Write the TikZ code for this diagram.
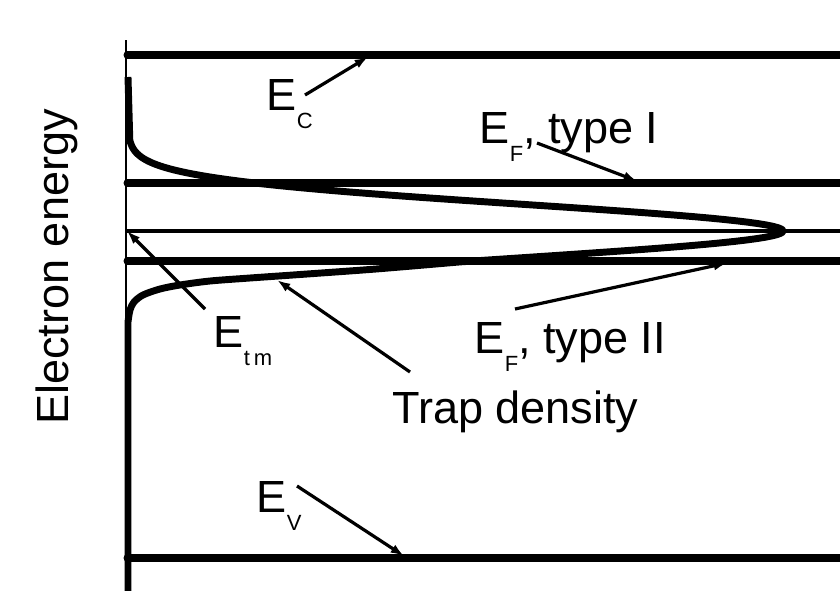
\documentclass[tikz,border=0pt]{standalone}
\usepackage{fontspec}
\setmainfont{Liberation Sans}
\usetikzlibrary{arrows.meta}
\newcommand{\lbsub}[1]{\raisebox{-14pt}{\fontsize{16.5pt}{16.5pt}\selectfont #1}}
\begin{document}
\begin{tikzpicture}[x=0.75pt,y=-0.75pt,
  band/.style={line width=6pt, line cap=round},
  thinband/.style={line width=2.4pt, line cap=round},
  pointer/.style={line width=2.4pt, -{Latex[length=10pt,width=7pt]}},
  lbl/.style={inner sep=0pt, anchor=base west, font=\fontsize{33.8pt}{36pt}\selectfont},
  ]
\useasboundingbox (0,0) rectangle (840,590);
% axis
\draw[line width=1.8pt] (126,40) -- (126,590);
% band edges and levels
\draw[band] (127.5,55) -- (845,55);
\draw[band] (127.5,183) -- (845,183);
\draw[thinband] (127,231) -- (845,231);
\draw[band] (127.5,261) -- (845,261);
\draw[band] (127.5,558) -- (845,558);
% trap density curve
\draw[line width=5.2pt, line join=round, line cap=butt]
  (128,77) -- (129.8,140)
  -- plot[domain=140:262, samples=90] ({128+655*exp(-0.5*((\x-231)/26.5)^2)}, \x)
  -- plot[smooth] coordinates {(459,262) (376,269) (300,274.5) (250,278) (210,281) (180,285) (160,289) (143,295) (134,302) (130,310) (128,322)}
  -- (128,595);
% labels
\node[lbl] (labEC) at (266.5,110) {E\lbsub{C}};
\node[lbl] (labEF1) at (479.5,143) {E\lbsub{F}, type I};
\node[lbl] (labEtm) at (213.5,347) {E\lbsub{t\hspace{3pt}m}};
\node[lbl] (labEF2) at (474.5,353) {E\lbsub{F}, type II};
\node[lbl] (labTrap) at (392,423) {Trap density};
\node[lbl] (labEV) at (256.5,512) {E\lbsub{V}};
\node[inner sep=0pt, anchor=base, rotate=90, font=\fontsize{33.8pt}{36pt}\selectfont] (labAxis) at (68,267) {Electron energy};
% pointer coordinates
\coordinate (tEC) at (305,95);   \coordinate (hEC) at (368,57);
\coordinate (tEF1) at (537,143); \coordinate (hEF1) at (637,181);
\coordinate (tEtm) at (205,309); \coordinate (hEtm) at (127,231);
\coordinate (tTrap) at (410,372); \coordinate (hTrap) at (277,280);
\coordinate (tEF2) at (515,309); \coordinate (hEF2) at (727,263);
\coordinate (tEV) at (297,486);  \coordinate (hEV) at (404,556);
\draw[pointer] (tEC) -- (hEC);
\draw[pointer] (tEF1) -- (hEF1);
\draw[pointer] (tEtm) -- (hEtm);
\draw[pointer] (tTrap) -- (hTrap);
\draw[pointer] (tEF2) -- (hEF2);
\draw[pointer] (tEV) -- (hEV);
\end{tikzpicture}
\end{document}
